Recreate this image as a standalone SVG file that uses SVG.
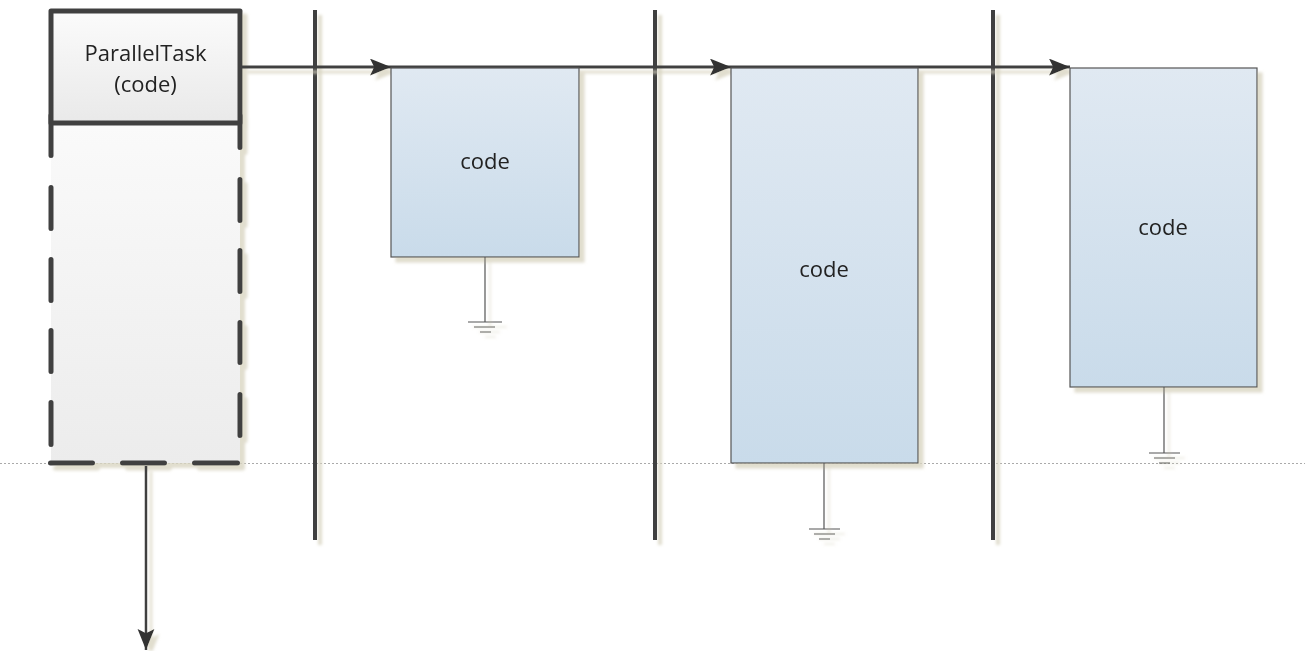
<svg xmlns="http://www.w3.org/2000/svg" width="1305" height="651" viewBox="0 0 1305 651">
  <style>
    .lbl { font-family: "Open Sans", "Noto Sans", sans-serif; font-size: 22px; fill: #222; text-anchor: middle; }
    .bar { stroke: #404040; stroke-width: 4; fill: none; }
    .flow { stroke: #404040; stroke-width: 3; fill: none; }
    .box { fill: url(#blueFill); stroke: #555; stroke-width: 1.2; }
    .gnd { stroke: #555; stroke-width: 1.2; fill: none; }
  </style>
  <defs>
    <linearGradient id="blueFill" x1="0" y1="0" x2="0" y2="1">
      <stop offset="0" stop-color="#e0e9f2"/>
      <stop offset="1" stop-color="#c9dbea"/>
    </linearGradient>
    <linearGradient id="headFill" x1="0" y1="0" x2="0" y2="1">
      <stop offset="0" stop-color="#fbfbfb"/>
      <stop offset="1" stop-color="#e9e9e9"/>
    </linearGradient>
    <linearGradient id="laneFill" x1="0" y1="0" x2="0" y2="1">
      <stop offset="0" stop-color="#fafafa"/>
      <stop offset="1" stop-color="#ececec"/>
    </linearGradient>
    <!-- soft beige drop shadow, region in canvas units so flat lines keep it too -->
    <filter id="shadow" filterUnits="userSpaceOnUse" x="0" y="0" width="1305" height="651">
      <feOffset in="SourceAlpha" dx="5" dy="5" result="off"/>
      <feGaussianBlur in="off" stdDeviation="1.5" result="blur"/>
      <feFlood flood-color="#d9d5c2" flood-opacity="0.8"/>
      <feComposite in2="blur" operator="in" result="sh"/>
      <feMerge><feMergeNode in="sh"/><feMergeNode in="SourceGraphic"/></feMerge>
    </filter>
    <marker id="arrow" viewBox="0 0 20 16" refX="20" refY="8" markerWidth="21" markerHeight="17" markerUnits="userSpaceOnUse" orient="auto">
      <path d="M0 0 L20 8 L0 16 L4 8 Z" fill="#333"/>
    </marker>
    <marker id="arrowBig" viewBox="0 0 20 16" refX="20" refY="8" markerWidth="21" markerHeight="20" markerUnits="userSpaceOnUse" orient="auto">
      <path d="M0 0 L20 8 L0 16 L4 8 Z" fill="#333"/>
    </marker>
  </defs>

  <!-- dotted baseline -->
  <line x1="0" y1="463.5" x2="1305" y2="463.5" stroke="#aaa" stroke-width="1" stroke-dasharray="2 2"/>

  <!-- lane dividers -->
  <g id="dividers" filter="url(#shadow)">
    <line class="bar" x1="315" y1="10" x2="315" y2="540"/>
    <line class="bar" x1="655" y1="10" x2="655" y2="540"/>
    <line class="bar" x1="993" y1="10" x2="993" y2="540"/>
  </g>

  <!-- parallel task lane -->
  <g id="parallel-task" filter="url(#shadow)">
    <rect x="51" y="123" width="189" height="340" fill="url(#laneFill)"/>
    <path d="M51 115.5 V155.5 M51 187.5 V228.5 M51 259.5 V300.5 M51 330.5 V371.5 M51 402.5 V444.5
             M240 115.5 V147.5 M240 179.5 V220.5 M240 250.5 V291.5 M240 322.5 V362.5 M240 394.5 V435.5
             M50.5 463 H92.5 M122.5 463 H164.5 M194.5 463 H237.5"
          stroke="#404040" stroke-width="5" stroke-linecap="round" fill="none"/>
    <rect x="51" y="11" width="189" height="112" fill="url(#headFill)" stroke="#404040" stroke-width="5" stroke-linejoin="round"/>
    <text class="lbl" x="145.5" y="61">ParallelTask</text>
    <text class="lbl" x="145.5" y="92">(code)</text>
  </g>

  <!-- connectors -->
  <g id="connectors" filter="url(#shadow)">
    <line class="flow" x1="242" y1="67" x2="391" y2="67" marker-end="url(#arrow)"/>
    <line class="flow" x1="391" y1="67" x2="731" y2="67" marker-end="url(#arrow)"/>
    <line class="flow" x1="731" y1="67" x2="1070" y2="67" marker-end="url(#arrow)"/>
    <line stroke="#404040" stroke-width="2.5" x1="146" y1="466" x2="146" y2="650" marker-end="url(#arrowBig)"/>
  </g>

  <!-- code block 1 -->
  <g id="code-1" filter="url(#shadow)">
    <rect class="box" x="391" y="68" width="188" height="189"/>
    <text class="lbl" x="485" y="169">code</text>
    <path class="gnd" d="M485 257 V322 M468 322 H502 M474 327 H495 M480 332 H491"/>
  </g>

  <!-- code block 2 -->
  <g id="code-2" filter="url(#shadow)">
    <rect class="box" x="731" y="68" width="187" height="395"/>
    <text class="lbl" x="824" y="277">code</text>
    <path class="gnd" d="M824 463 V529 M809 529 H840 M814 534 H835 M819 539 H830"/>
  </g>

  <!-- code block 3 -->
  <g id="code-3" filter="url(#shadow)">
    <rect class="box" x="1070" y="68" width="187" height="319"/>
    <text class="lbl" x="1163" y="235">code</text>
    <path class="gnd" d="M1164 387 V453 M1149 453 H1180 M1154 458 H1175 M1159 463 H1170"/>
  </g>
</svg>
